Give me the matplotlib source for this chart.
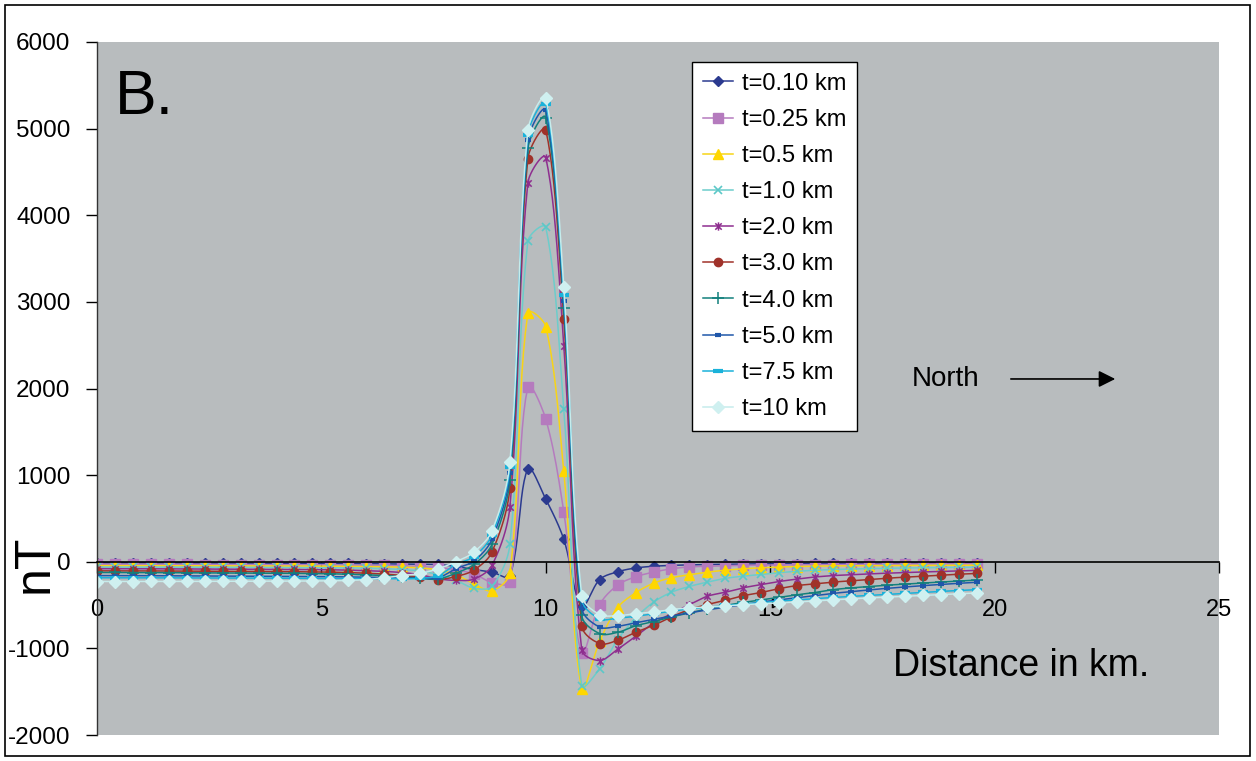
import numpy as np
import matplotlib
matplotlib.use("Agg")
import matplotlib.pyplot as plt
from matplotlib.path import Path
from matplotlib.patches import Rectangle

plt.rcParams['font.family'] = ['Liberation Sans', 'DejaVu Sans']

# ---------------- data ----------------
distance_km = [0.0, 0.4, 0.8, 1.2, 1.6, 2.0, 2.4, 2.8, 3.2, 3.6,
               4.0, 4.4, 4.8, 5.2, 5.6, 6.0, 6.4, 6.8, 7.2, 7.6,
               8.0, 8.4, 8.8, 9.2, 9.6, 10.0, 10.4, 10.8, 11.2, 11.6,
               12.0, 12.4, 12.8, 13.2, 13.6, 14.0, 14.4, 14.8, 15.2, 15.6,
               16.0, 16.4, 16.8, 17.2, 17.6, 18.0, 18.4, 18.8, 19.2, 19.6]

t_010 = [-12, -12, -12, -13, -13, -13, -14, -14, -15, -15,
         -16, -17, -18, -19, -20, -22, -24, -26, -28, -31,
         -55, -90, -120, -165, 1075, 722, 260, -515, -205, -116,
         -72, -52, -42, -36, -32, -29, -26, -24, -22, -21,
         -20, -19, -18, -17, -16, -15, -14, -13, -13, -12]
t_025 = [-30, -30, -30, -31, -31, -31, -32, -32, -33, -33,
         -34, -34, -35, -36, -38, -40, -43, -47, -55, -65,
         -95, -140, -240, -235, 2020, 1645, 578, -1055, -495, -270,
         -174, -120, -81, -60, -52, -46, -42, -39, -37, -35,
         -33, -32, -30, -29, -28, -27, -26, -25, -25, -24]
t_05 = [-45, -45, -45, -46, -46, -46, -47, -47, -48, -48,
        -49, -50, -50, -51, -53, -55, -58, -62, -70, -95,
        -150, -255, -335, -127, 2870, 2715, 1045, -1465, -920, -530,
        -359, -248, -185, -150, -120, -98, -81, -70, -61, -55,
        -51, -48, -46, -45, -44, -43, -42, -41, -41, -40]
t_10 = [-62, -62, -62, -63, -63, -63, -64, -64, -65, -65,
        -66, -67, -68, -69, -71, -74, -80, -90, -105, -150,
        -215, -305, -285, 200, 3700, 3860, 1765, -1430, -1235, -900,
        -650, -467, -352, -285, -235, -192, -166, -147, -126, -110,
        -98, -90, -84, -79, -75, -72, -69, -67, -65, -63]
t_20 = [-80, -80, -81, -81, -82, -82, -83, -84, -85, -86,
        -87, -89, -91, -93, -97, -103, -112, -125, -150, -197,
        -215, -200, -43, 634, 4375, 4665, 2495, -1015, -1140, -1010,
        -862, -710, -600, -495, -398, -352, -301, -263, -228, -200,
        -176, -160, -150, -140, -132, -125, -118, -112, -106, -100]
t_30 = [-105, -105, -106, -106, -107, -107, -108, -109, -110, -111,
        -113, -115, -117, -120, -125, -132, -143, -158, -180, -205,
        -170, -96, 112, 850, 4655, 4985, 2805, -740, -945, -907,
        -815, -735, -637, -552, -494, -446, -392, -355, -310, -275,
        -255, -235, -220, -205, -190, -178, -166, -155, -144, -135]
t_40 = [-124, -124, -125, -125, -126, -126, -127, -128, -129, -130,
        -132, -134, -136, -139, -144, -151, -160, -172, -190, -200,
        -130, -31, 201, 947, 4771, 5127, 2932, -620, -830, -815,
        -740, -690, -637, -591, -545, -505, -470, -440, -410, -380,
        -355, -322, -302, -286, -271, -258, -246, -234, -222, -212]
t_50 = [-160, -160, -161, -161, -162, -162, -163, -164, -165, -166,
        -167, -168, -170, -172, -175, -178, -182, -187, -192, -185,
        -80, 8, 259, 1024, 4864, 5212, 3005, -535, -755, -745,
        -705, -665, -625, -590, -555, -525, -495, -465, -440, -415,
        -390, -365, -345, -325, -307, -291, -276, -262, -249, -237]
t_75 = [-185, -185, -186, -186, -186, -187, -187, -188, -188, -189,
        -190, -191, -192, -193, -195, -196, -197, -197, -192, -160,
        -30, 60, 310, 1090, 4930, 5290, 3080, -435, -660, -650,
        -630, -600, -570, -545, -525, -505, -488, -470, -455, -440,
        -426, -412, -400, -388, -376, -364, -353, -342, -332, -322]
t_100 = [-228, -228, -228, -227, -227, -227, -226, -226, -225, -225,
         -224, -223, -222, -220, -216, -205, -185, -160, -135, -80,
         0, 112, 355, 1147, 4980, 5351, 3176, -390, -610, -622,
         -600, -580, -552, -533, -522, -512, -496, -485, -475, -465,
         -452, -440, -428, -418, -408, -398, -389, -379, -369, -360]

labels = ['t=0.10 km', 't=0.25 km', 't=0.5 km', 't=1.0 km', 't=2.0 km',
          't=3.0 km', 't=4.0 km', 't=5.0 km', 't=7.5 km', 't=10 km']
series = [t_010, t_025, t_05, t_10, t_20, t_30, t_40, t_50, t_75, t_100]

x_ticks = [0, 5, 10, 15, 20, 25]
y_ticks = [-2000, -1000, 0, 1000, 2000, 3000, 4000, 5000, 6000]

# ---------------- styles ----------------
star = Path([(-1, -1), (1, 1), (-1, 1), (1, -1), (0, -1.3), (0, 1.3)],
            [Path.MOVETO, Path.LINETO, Path.MOVETO, Path.LINETO, Path.MOVETO, Path.LINETO])

styles = [
    dict(color='#2B3A8F', marker='D', ms=5.5, mfc='#2B3A8F', mec='#2B3A8F'),
    dict(color='#B57BBE', marker='s', ms=6.5, mfc='#B57BBE', mec='#B57BBE'),
    dict(color='#F7D417', marker='^', ms=7, mfc='#FFD700', mec='#FFD700'),
    dict(color='#6CCDCB', marker='x', ms=6, mew=1.2, mec='#5CC8C8'),
    dict(color='#8E2E8F', marker=star, ms=6, mew=1.1, mec='#8E2E8F'),
    dict(color='#A0322A', marker='o', ms=6, mfc='#A0322A', mec='#A0322A'),
    dict(color='#12807C', marker='+', ms=8, mew=1.1, mec='#12807C'),
    dict(color='#1F57AA', marker='_', ms=5, mew=3, mec='#1F57AA'),
    dict(color='#1AB2DA', marker='_', ms=7, mew=3, mec='#1AB2DA'),
    dict(color='#C6ECEC', marker='D', ms=6.5, mfc='#CFF0F0', mec='#CFF0F0'),
]


def smooth_curve(ax, x, y, n=12):
    """Excel-style smoothed line (chord-scaled Bezier) computed in display space."""
    P = ax.transData.transform(np.column_stack([np.asarray(x, float), np.asarray(y, float)]))
    Pm = np.vstack([P[0], P, P[-1]])
    t = np.linspace(0, 1, n, endpoint=False)[:, None]
    out = []
    for i in range(len(P) - 1):
        p0, p1, p2, p3 = Pm[i], Pm[i + 1], Pm[i + 2], Pm[i + 3]
        d01 = np.hypot(*(p1 - p0))
        d12 = np.hypot(*(p2 - p1))
        d23 = np.hypot(*(p3 - p2))
        f1 = d12 / (d01 + d12) / 3.0 if (d01 + d12) > 0 else 0
        f2 = d12 / (d12 + d23) / 3.0 if (d12 + d23) > 0 else 0
        c1 = p1 + (p2 - p0) * f1
        c2 = p2 - (p3 - p1) * f2
        seg = ((1 - t) ** 3) * p1 + 3 * ((1 - t) ** 2) * t * c1 + 3 * (1 - t) * (t ** 2) * c2 + (t ** 3) * p2
        out.append(seg)
    out.append(P[-1:])
    return ax.transData.inverted().transform(np.vstack(out))


W, H = 1256, 761
fig = plt.figure(figsize=(W / 100, H / 100), dpi=100)
fig.patch.set_facecolor('white')
ax = fig.add_axes([97 / W, 1 - 735 / H, (1219 - 97) / W, (735 - 42) / H])
ax.set_facecolor('#B8BCBE')
ax.set_xlim(0, 25)
ax.set_ylim(-2000, 6000)

ax.spines['bottom'].set_position(('data', 0))
ax.spines['bottom'].set_color('black')
ax.spines['bottom'].set_linewidth(1.2)
ax.spines['left'].set_color('#333333')
ax.spines['left'].set_linewidth(1.0)
for s in ['top', 'right']:
    ax.spines[s].set_visible(False)

N = 12
for lab, ys, st in zip(labels, series, styles):
    sm = smooth_curve(ax, distance_km, ys, N)
    ax.plot(sm[:, 0], sm[:, 1], lw=1.1, markevery=slice(0, None, N), label=lab, **st)

ax.set_xlim(0, 25)
ax.set_ylim(-2000, 6000)
ax.set_xticks(x_ticks)
ax.set_yticks(y_ticks)
ax.set_xticklabels([str(v) for v in x_ticks])
ax.set_yticklabels([str(v) for v in y_ticks])
ax.tick_params(axis='x', direction='out', length=8, width=1, pad=19, colors='black', labelsize=17)
ax.tick_params(axis='y', direction='out', length=8, width=1, pad=11, colors='black', labelsize=17.5)

ax.text(0.4, 5170, 'B.', fontsize=45, va='baseline', ha='left')
ax.text(17.73, -1320, 'Distance in km.', fontsize=27, va='baseline', ha='left')
ax.text(18.15, 2110, 'North', fontsize=20, va='center', ha='left')
ax.annotate('', xy=(22.75, 2110), xytext=(20.3, 2110),
            arrowprops=dict(arrowstyle='-|>', color='black', lw=1.2, mutation_scale=25))
fig.text(35 / W, 1 - 564 / H, 'nT', fontsize=36, rotation=90, ha='center', va='center')

leg = ax.legend(loc='upper left', bbox_to_anchor=((692 - 97) / 1122, (735 - 62) / 693),
                fontsize=17, frameon=True, fancybox=False, edgecolor='black',
                framealpha=1, handlelength=1.3, handletextpad=0.35, labelspacing=0.6,
                borderpad=0.45, borderaxespad=0)
leg.get_frame().set_linewidth(1.0)

fig.patches.append(Rectangle((5 / W, 5 / H), (1250 - 5) / W, (756 - 5) / H,
                             transform=fig.transFigure, fill=False, ec='black', lw=1.2))

fig.savefig('out.png', dpi=100)
